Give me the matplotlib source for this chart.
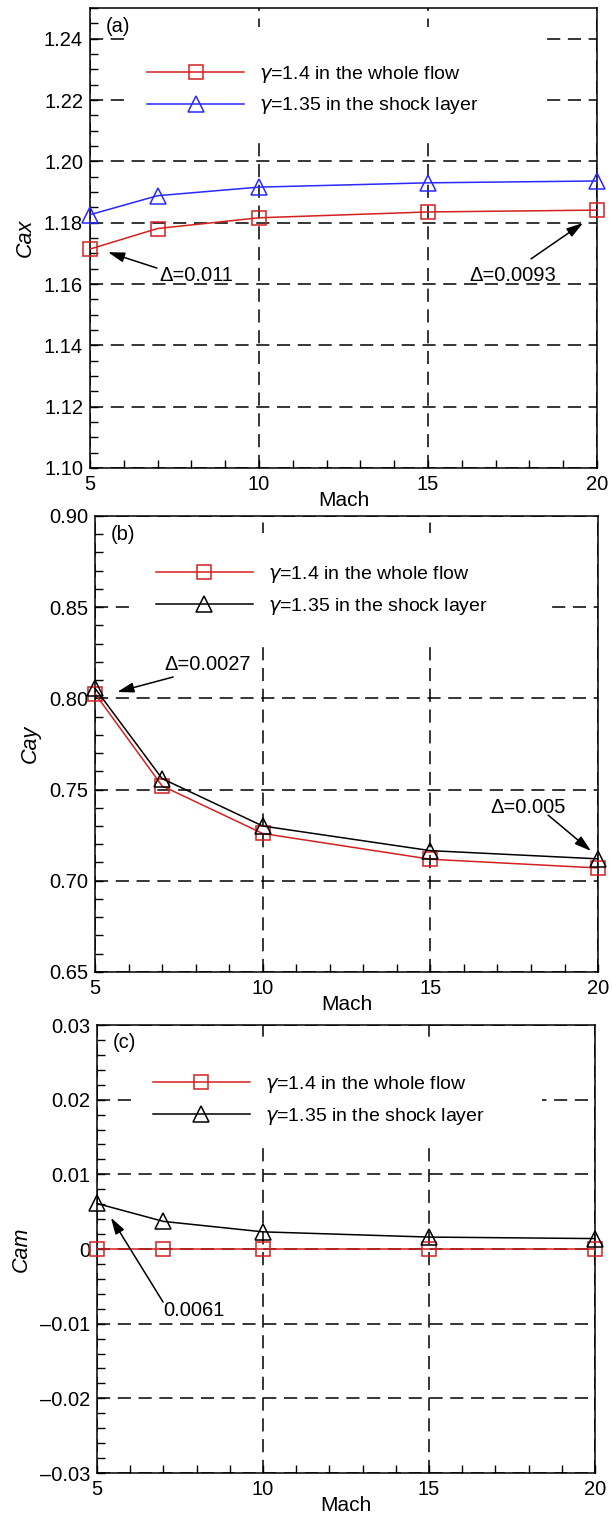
import numpy as np
import matplotlib.pyplot as plt
from matplotlib.patches import Rectangle
from matplotlib.ticker import MultipleLocator, FormatStrFormatter

plt.rcParams['font.family'] = ['Liberation Sans', 'DejaVu Sans']
plt.rcParams['mathtext.fontset'] = 'dejavusans'

mach = [5, 7, 10, 15, 20]

# (a) axial force coefficient
cax_14 = [1.1714, 1.1781, 1.1816, 1.1835, 1.1841]
cax_135 = [1.1826, 1.1888, 1.1916, 1.1930, 1.1936]
# (b) normal force coefficient
cay_14 = [0.8026, 0.7520, 0.7259, 0.7118, 0.7070]
cay_135 = [0.8055, 0.7560, 0.7300, 0.7165, 0.7120]
# (c) moment coefficient
cam_14 = [0.0, 0.0, 0.0, 0.0, 0.0]
cam_135 = [0.0061, 0.0037, 0.0023, 0.0016, 0.0014]

lab1 = r'$\gamma$=1.4 in the whole flow'
lab2 = r'$\gamma$=1.35 in the shock layer'

RED = '#d42020'
BLUE = '#2828ff'
DASH = (0, (8.6, 5))

fig = plt.figure(figsize=(6.13, 15.17), dpi=100)

panels = [
    dict(rect=[0.1468, 0.6915, 0.8270, 0.3032], y1=cax_14, y2=cax_135, c2=BLUE,
         ylim=(1.10, 1.25), major=0.02, minor=0.005, fmt='%.2f', ylab='Cax', tag='(a)',
         box=(0.075, 0.717, 0.820, 0.242), leg=(0.113, 0.879),
         arrows=[((6.98, 1.1652), (5.53, 1.1704)), ((18.05, 1.1682), (19.59, 1.1799))],
         notes=[(7.04, 1.1629, '\u0394=0.011'), (16.24, 1.1629, '\u0394=0.0093')]),
    dict(rect=[0.1550, 0.3593, 0.8206, 0.3006], y1=cay_14, y2=cay_135, c2='k',
         ylim=(0.65, 0.90), major=0.05, minor=0.01, fmt='%.2f', ylab='Cay', tag='(b)',
         box=(0.078, 0.728, 0.819, 0.235), leg=(0.121, 0.894),
         arrows=[((7.33, 0.8117), (5.66, 0.8035)), ((18.51, 0.7360), (19.79, 0.7163))],
         notes=[(7.06, 0.8183, '\u0394=0.0027'), (16.78, 0.7400, '\u0394=0.005')]),
    dict(rect=[0.1582, 0.0290, 0.8124, 0.2953], y1=cam_14, y2=cam_135, c2='k',
         ylim=(-0.03, 0.03), major=0.01, minor=0.002, fmt=None, ylab='Cam', tag='(c)',
         box=(0.074, 0.738, 0.820, 0.235), leg=(0.112, 0.891),
         arrows=[((6.99, -0.0071), (5.42, 0.0042))],
         notes=[(6.99, -0.0083, '0.0061')]),
]

for p in panels:
    ax = fig.add_axes(p['rect'])
    ax.set_xlim(5, 20)
    ax.set_ylim(*p['ylim'])
    ax.set_axisbelow(True)
    ax.xaxis.set_major_locator(MultipleLocator(5))
    ax.xaxis.set_minor_locator(MultipleLocator(1))
    ax.yaxis.set_major_locator(MultipleLocator(p['major']))
    ax.yaxis.set_minor_locator(MultipleLocator(p['minor']))
    if p['fmt']:
        ax.yaxis.set_major_formatter(FormatStrFormatter(p['fmt']))
    else:
        ax.yaxis.set_major_formatter(plt.FuncFormatter(
            lambda v, pos: '0' if abs(v) < 1e-9 else ('%.2f' % v).replace('-', '\u2013')))
    ax.tick_params(which='both', direction='in', length=6, width=1.0,
                   top=False, right=False, labelsize=14.5, pad=5)
    ax.grid(True, which='major', color='k', lw=1.1, linestyle=DASH)
    for s in ax.spines.values():
        s.set_linewidth(1.1)

    # white legend area hides the grid behind it
    bx, by, bw, bh = p['box']
    ax.add_patch(Rectangle((bx, by), bw, bh, transform=ax.transAxes,
                           facecolor='white', edgecolor='none', zorder=1))

    ax.plot(mach, p['y1'], color=RED, lw=1.1, marker='s', ms=9.5, mfc='none',
            mec=RED, mew=1.1, label=lab1, zorder=3, clip_on=False)
    ax.plot(mach, p['y2'], color=p['c2'], lw=1.1, marker='^', ms=11, mfc='none',
            mec=p['c2'], mew=1.1, label=lab2, zorder=3, clip_on=False)

    ax.legend(loc='upper left', bbox_to_anchor=p['leg'], frameon=False,
              fontsize=14, handlelength=5.0, handletextpad=0.75,
              labelspacing=0.55, borderpad=0, borderaxespad=0)

    for tail, tip in p['arrows']:
        ax.annotate('', xy=tip, xytext=tail,
                    arrowprops=dict(arrowstyle='-|>,head_length=1.0,head_width=0.3',
                                    color='k', lw=1.1, shrinkA=0, shrinkB=0))
    for x, y, t in p['notes']:
        ax.text(x, y, t, fontsize=14.5, ha='left', va='center')

    ax.text(0.032, 0.96, p['tag'], transform=ax.transAxes, fontsize=14.5,
            ha='left', va='center')
    ax.set_xlabel('Mach', fontsize=15, labelpad=-2)
    ax.set_ylabel(p['ylab'], fontsize=15.5, style='italic', labelpad=6)

fig.savefig('out.png', dpi=100)
